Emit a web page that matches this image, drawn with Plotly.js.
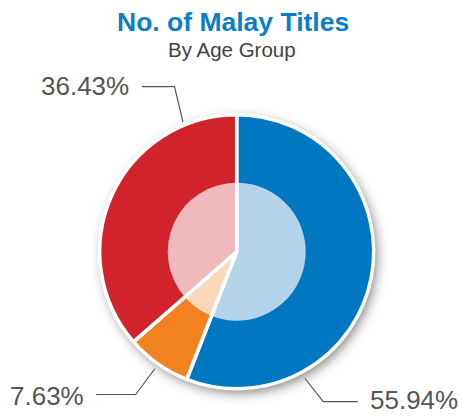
<!DOCTYPE html>
<html>
<head>
<meta charset="utf-8">
<script src="https://cdn.plot.ly/plotly-3.0.1.min.js"></script>
<style>
  html, body { margin: 0; padding: 0; background: #fff; }
  #chart { width: 463px; height: 418px; }
  .pielayer .trace:first-child { filter: drop-shadow(3px 4px 6px rgba(0,0,0,0.5)); }
</style>
</head>
<body>
<div id="chart"></div>
<script>
// Data
const ageGroups = ["Group A", "Group B", "Group C"];
const shares = [55.94, 7.63, 36.43];
const labelsText = ["55.94%", "7.63%", "36.43%"];
const darkColors = ["#0077c1", "#f28220", "#d0232b"];
const lightColors = ["#b3d4ea", "#fbd8b8", "#f0b9bd"];

const W = 463, H = 418;
const cx = 236.7, cy = 251.7, rOuter = 137, rInner = 69;

function dom(r) {
  return {
    x: [(cx - r) / W, (cx + r) / W],
    y: [(H - cy - r) / H, (H - cy + r) / H]
  };
}

const outer = {
  type: "pie", values: shares, labels: ageGroups, sort: false,
  direction: "clockwise", rotation: 0, domain: dom(rOuter),
  marker: { colors: darkColors, line: { color: "#fff", width: 0 } },
  textinfo: "none", hoverinfo: "label+percent", showlegend: false
};
const inner = {
  type: "pie", values: shares, labels: ageGroups, sort: false,
  direction: "clockwise", rotation: 0, domain: dom(rInner),
  marker: { colors: lightColors, line: { color: "#fff", width: 0 } },
  textinfo: "none", hoverinfo: "skip", showlegend: false
};
const outline = {
  type: "pie", values: shares, labels: ageGroups, sort: false,
  direction: "clockwise", rotation: 0, domain: dom(rOuter),
  marker: { colors: ["rgba(0,0,0,0)", "rgba(0,0,0,0)", "rgba(0,0,0,0)"], line: { color: "#fff", width: 3.5 } },
  textinfo: "none", hoverinfo: "skip", showlegend: false
};

const px = x => x / W;
const py = y => 1 - y / H;
const lineStyle = { color: "#555", width: 1.2 };
function path(pts) {
  return pts.map((p, i) => (i ? "L" : "M") + px(p[0]).toFixed(4) + "," + py(p[1]).toFixed(4)).join(" ");
}

const layout = {
  width: W, height: H,
  margin: { l: 0, r: 0, t: 0, b: 0 },
  paper_bgcolor: "#fff",
  font: { family: "Liberation Sans, Arial, sans-serif" },
  showlegend: false,
  annotations: [
    { text: "<b>No. of Malay Titles</b>", x: px(233), y: py(22), xref: "paper", yref: "paper",
      showarrow: false, xanchor: "center", yanchor: "middle",
      font: { size: 26.5, color: "#0a7fc6", family: "Liberation Sans, Arial, sans-serif" } },
    { text: "By Age Group", x: px(232), y: py(49), xref: "paper", yref: "paper",
      showarrow: false, xanchor: "center", yanchor: "middle",
      font: { size: 20.5, color: "#444", family: "Liberation Sans, Arial, sans-serif" } },
    { text: labelsText[2], x: px(131), y: py(86), xref: "paper", yref: "paper",
      showarrow: false, xanchor: "right", yanchor: "middle",
      font: { size: 26, color: "#555" } },
    { text: labelsText[1], x: px(86), y: py(396), xref: "paper", yref: "paper",
      showarrow: false, xanchor: "right", yanchor: "middle",
      font: { size: 26, color: "#555" } },
    { text: labelsText[0], x: px(368), y: py(400), xref: "paper", yref: "paper",
      showarrow: false, xanchor: "left", yanchor: "middle",
      font: { size: 26, color: "#555" } }
  ],
  shapes: [
    { type: "path", xref: "paper", yref: "paper", path: path([[142, 86.7], [174.5, 86.7], [183, 122]]), line: lineStyle },
    { type: "path", xref: "paper", yref: "paper", path: path([[96, 394.5], [135.7, 394.5], [155, 368.5]]), line: lineStyle },
    { type: "path", xref: "paper", yref: "paper", path: path([[305, 378.5], [323.3, 401.7], [357.7, 401.7]]), line: lineStyle }
  ]
};

Plotly.newPlot("chart", [outer, inner, outline], layout, { displayModeBar: false, staticPlot: true });
</script>
</body>
</html>
